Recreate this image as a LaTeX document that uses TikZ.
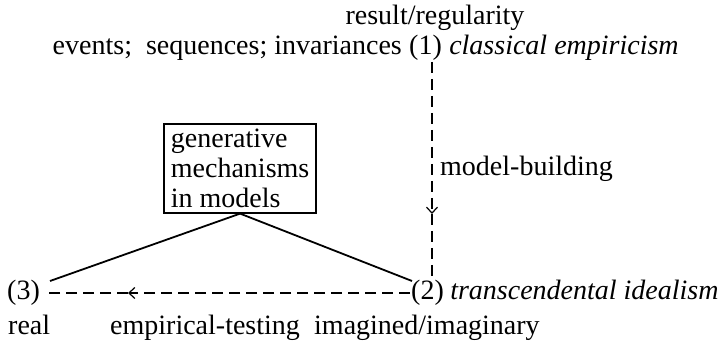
\documentclass[tikz,border=0pt]{standalone}
\usepackage{fontspec}
\setmainfont{Liberation Serif}
\usetikzlibrary{arrows.meta}
\begin{document}
\begin{tikzpicture}[x=1pt,y=-1pt,
  lbl/.style={inner sep=0pt,anchor=base west,font=\fontsize{28}{30}\selectfont},
  dline/.style={dashed,dash pattern=on 11pt off 6pt,line width=1.1pt},
  sline/.style={line width=1.8pt},
  tip/.style={-{Straight Barb[length=6pt,width=11pt,line width=1.2pt]}}]
\useasboundingbox (0,0) rectangle (723,344);
% top rows
\node[lbl,anchor=base] (res) at (435,25) {result/regularity};
\node[lbl] (n1) at (409,55) {(1)};
\node[lbl,anchor=base east] (ev) at ([xshift=-7pt]n1.base west) {events;\ \ sequences; invariances};
\node[lbl] (ce) at ([xshift=7pt]n1.base east) {\itshape classical empiricism};
% box
\node[draw,line width=1.8pt,inner xsep=7pt,inner ysep=5pt,align=left,anchor=north west,
  font=\fontsize{28}{30}\selectfont] (box) at (163,123) {generative\\mechanisms\\in models};
% lower row
\node[lbl] (n2) at (411,300) {(2)};
\node[lbl] (ti) at ([xshift=6pt]n2.base east) {\itshape transcendental idealism};
\node[lbl] (n3) at (7,300) {(3)};
\node[lbl] (real) at (8,335) {real};
\node[lbl] (et) at (110,335) {empirical-testing};
\node[lbl] (im) at (314,335) {imagined/imaginary};
\node[lbl] (mb) at (440,176) {model-building};
% connector coordinates
\coordinate (v1) at (432,62);
\coordinate (va) at (432,214);
\coordinate (v2) at (432,277);
\coordinate (h2) at (410,293);
\coordinate (ha) at (128,293);
\coordinate (h3) at (45,293);
\coordinate (s3) at (50,281);
\coordinate (s2) at (412,281);
% dashed connectors
\draw[dline,tip] (v1) -- (va);
\draw[dline] (va) -- (v2);
\draw[dline,tip] (h2) -- (ha);
\draw[dline] (ha) -- (h3);
% solid lines
\draw[sline] (box.south) -- (s3);
\draw[sline] (box.south) -- (s2);
\end{tikzpicture}
\end{document}
